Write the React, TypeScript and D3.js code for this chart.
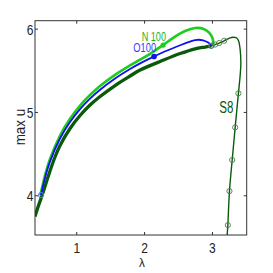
import React from "react";
import * as d3 from "d3";

// branch S8 (dark green), lambda / max u
const s8Lambda = [0.385, 0.437, 0.496, 0.532, 0.606, 0.68, 0.754, 0.901, 1.049, 1.196, 1.344, 1.565, 1.786, 1.934, 2.229, 2.524, 2.745, 2.892, 2.981, 3.04, 3.099, 3.173, 3.246, 3.305, 3.357, 3.386, 3.409, 3.419, 3.409, 3.383, 3.335, 3.291, 3.251, 3.227, 3.217];
const s8U = [3.75, 3.882, 4.02, 4.11, 4.297, 4.465, 4.603, 4.807, 4.963, 5.089, 5.191, 5.323, 5.437, 5.509, 5.611, 5.707, 5.764, 5.785, 5.797, 5.815, 5.833, 5.86, 5.89, 5.903, 5.893, 5.857, 5.749, 5.593, 5.449, 5.229, 4.821, 4.429, 4.056, 3.648, 3.528];
const s8ThickEnd = 18; // thick part up to the junction
const s8MarkLambda = [2.981, 3.04, 3.099, 3.173, 3.383, 3.335, 3.291, 3.251, 3.227];
const s8MarkU = [5.797, 5.815, 5.833, 5.86, 5.229, 4.821, 4.429, 4.056, 3.648];

// N 100 (green)
const nLambda = [0.463, 0.532, 0.606, 0.754, 0.901, 1.049, 1.196, 1.344, 1.565, 1.786, 1.934, 2.081, 2.273, 2.45, 2.597, 2.745, 2.863, 2.951, 3.003, 3.015];
const nU = [4.002, 4.242, 4.441, 4.723, 4.924, 5.082, 5.209, 5.317, 5.451, 5.564, 5.634, 5.704, 5.809, 5.911, 5.977, 6.013, 6.005, 5.959, 5.887, 5.809];
const nDot = [2.273, 5.809];

// O100 (blue)
const oLambda = [0.473, 0.532, 0.606, 0.754, 0.901, 1.049, 1.196, 1.344, 1.565, 1.786, 1.934, 2.081, 2.273, 2.45, 2.597, 2.745, 2.863, 2.937, 2.988];
const oU = [4.008, 4.214, 4.409, 4.687, 4.885, 5.04, 5.166, 5.273, 5.408, 5.522, 5.589, 5.649, 5.722, 5.782, 5.829, 5.869, 5.866, 5.839, 5.803];
const oDot = [2.14, 5.672];

const xTicks = [1, 2, 3];
const yTicks = [4, 5, 6];

const W = 273;
const H = 273;
const left = 35, right = 246.7, top = 20.7, bottom = 235;

const x = d3.scaleLinear().domain([0.385, 3.505]).range([left, right]);
const y = d3.scaleLinear().domain([3.529, 6.101]).range([bottom, top]);

const zip = (a: number[], b: number[]) => a.map((v, i) => [v, b[i]] as [number, number]);

const line = d3
  .line<[number, number]>()
  .x((d) => x(d[0]))
  .y((d) => y(d[1]))
  .curve(d3.curveCatmullRom.alpha(0.5));

const font = "Liberation Sans, Arial, Helvetica, sans-serif";
const darkGreen = "#0a5a0a";
const green = "#1ecc1e";
const blue = "#1010f0";

function Label(props: { x: number; y: number; sx: number; size: number; fill: string; anchor?: string; rotate?: number; children: any }) {
  const { sx, size, fill, anchor, rotate, children } = props;
  const rot = rotate ? ` rotate(${rotate})` : "";
  return (
    <text
      transform={`translate(${props.x},${props.y})${rot} scale(${sx},1)`}
      fontSize={size}
      fill={fill}
      fontFamily={font}
      textAnchor={anchor || "start"}
    >
      {children}
    </text>
  );
}

export default function App() {
  const s8 = zip(s8Lambda, s8U);
  const n100 = zip(nLambda, nU);
  const o100 = zip(oLambda, oU);
  const s8Marks = zip(s8MarkLambda, s8MarkU);
  const axisColor = "#333";

  return (
    <svg width={W} height={H} style={{ position: "absolute", left: 0, top: 0, background: "#fff" }}>
      <defs>
        <clipPath id="plot">
          <rect x={left} y={top} width={right - left} height={bottom - top} />
        </clipPath>
      </defs>
      <rect width={W} height={H} fill="#fff" />

      <g clipPath="url(#plot)">
        <path d={line(s8.slice(0, s8ThickEnd + 1)) || ""} fill="none" stroke={darkGreen} strokeWidth={3.3} />
        <path d={line(s8.slice(s8ThickEnd - 1)) || ""} fill="none" stroke={darkGreen} strokeWidth={1.4} />
        <path d={line(n100) || ""} fill="none" stroke={green} strokeWidth={2.6} />
        <path d={line(o100) || ""} fill="none" stroke={blue} strokeWidth={1.8} />

        {s8Marks.map((d, i) => (
          <circle key={i} cx={x(d[0])} cy={y(d[1])} r={2.6} fill="none" stroke="#4f7a4f" strokeWidth={0.9} />
        ))}
        <circle cx={x(oLambda[0])} cy={y(oU[0])} r={2.6} fill="none" stroke="#5a7cff" strokeWidth={1} />
        <circle cx={x(oLambda[oLambda.length - 1])} cy={y(oU[oU.length - 1])} r={2.6} fill="none" stroke="#5a6ad8" strokeWidth={0.9} />
        <circle cx={x(nDot[0])} cy={y(nDot[1])} r={2.6} fill={green} />
        <circle cx={x(oDot[0])} cy={y(oDot[1])} r={2.8} fill={blue} />
      </g>

      {/* frame and inward ticks */}
      <rect x={left} y={top} width={right - left} height={bottom - top} fill="none" stroke={axisColor} strokeWidth={1} />
      {xTicks.map((t) => (
        <g key={"x" + t}>
          <line x1={x(t)} x2={x(t)} y1={bottom} y2={bottom - 3} stroke={axisColor} />
          <line x1={x(t)} x2={x(t)} y1={top} y2={top + 3} stroke={axisColor} />
          <Label x={x(t)} y={252.7} sx={0.86} size={14} fill="#222" anchor="middle">{t}</Label>
        </g>
      ))}
      {yTicks.map((t) => (
        <g key={"y" + t}>
          <line x1={left} x2={left + 3} y1={y(t)} y2={y(t)} stroke={axisColor} />
          <line x1={right} x2={right - 3} y1={y(t)} y2={y(t)} stroke={axisColor} />
          <Label x={33.5} y={y(t) + 5.5} sx={0.86} size={14} fill="#222" anchor="end">{t}</Label>
        </g>
      ))}

      <Label x={(left + right) / 2 + 1} y={266.7} sx={0.9} size={13} fill="#222" anchor="middle">λ</Label>
      <Label x={24.5} y={127} sx={0.9} size={15} fill="#222" anchor="middle" rotate={-90}>max u</Label>

      <Label x={141.7} y={41.3} sx={0.7} size={13} fill="#22b522">N 100</Label>
      <Label x={133.3} y={52} sx={0.74} size={12.6} fill="#3a3aff">O100</Label>
      <Label x={219.3} y={113.3} sx={0.68} size={17} fill={darkGreen}>S8</Label>
    </svg>
  );
}
